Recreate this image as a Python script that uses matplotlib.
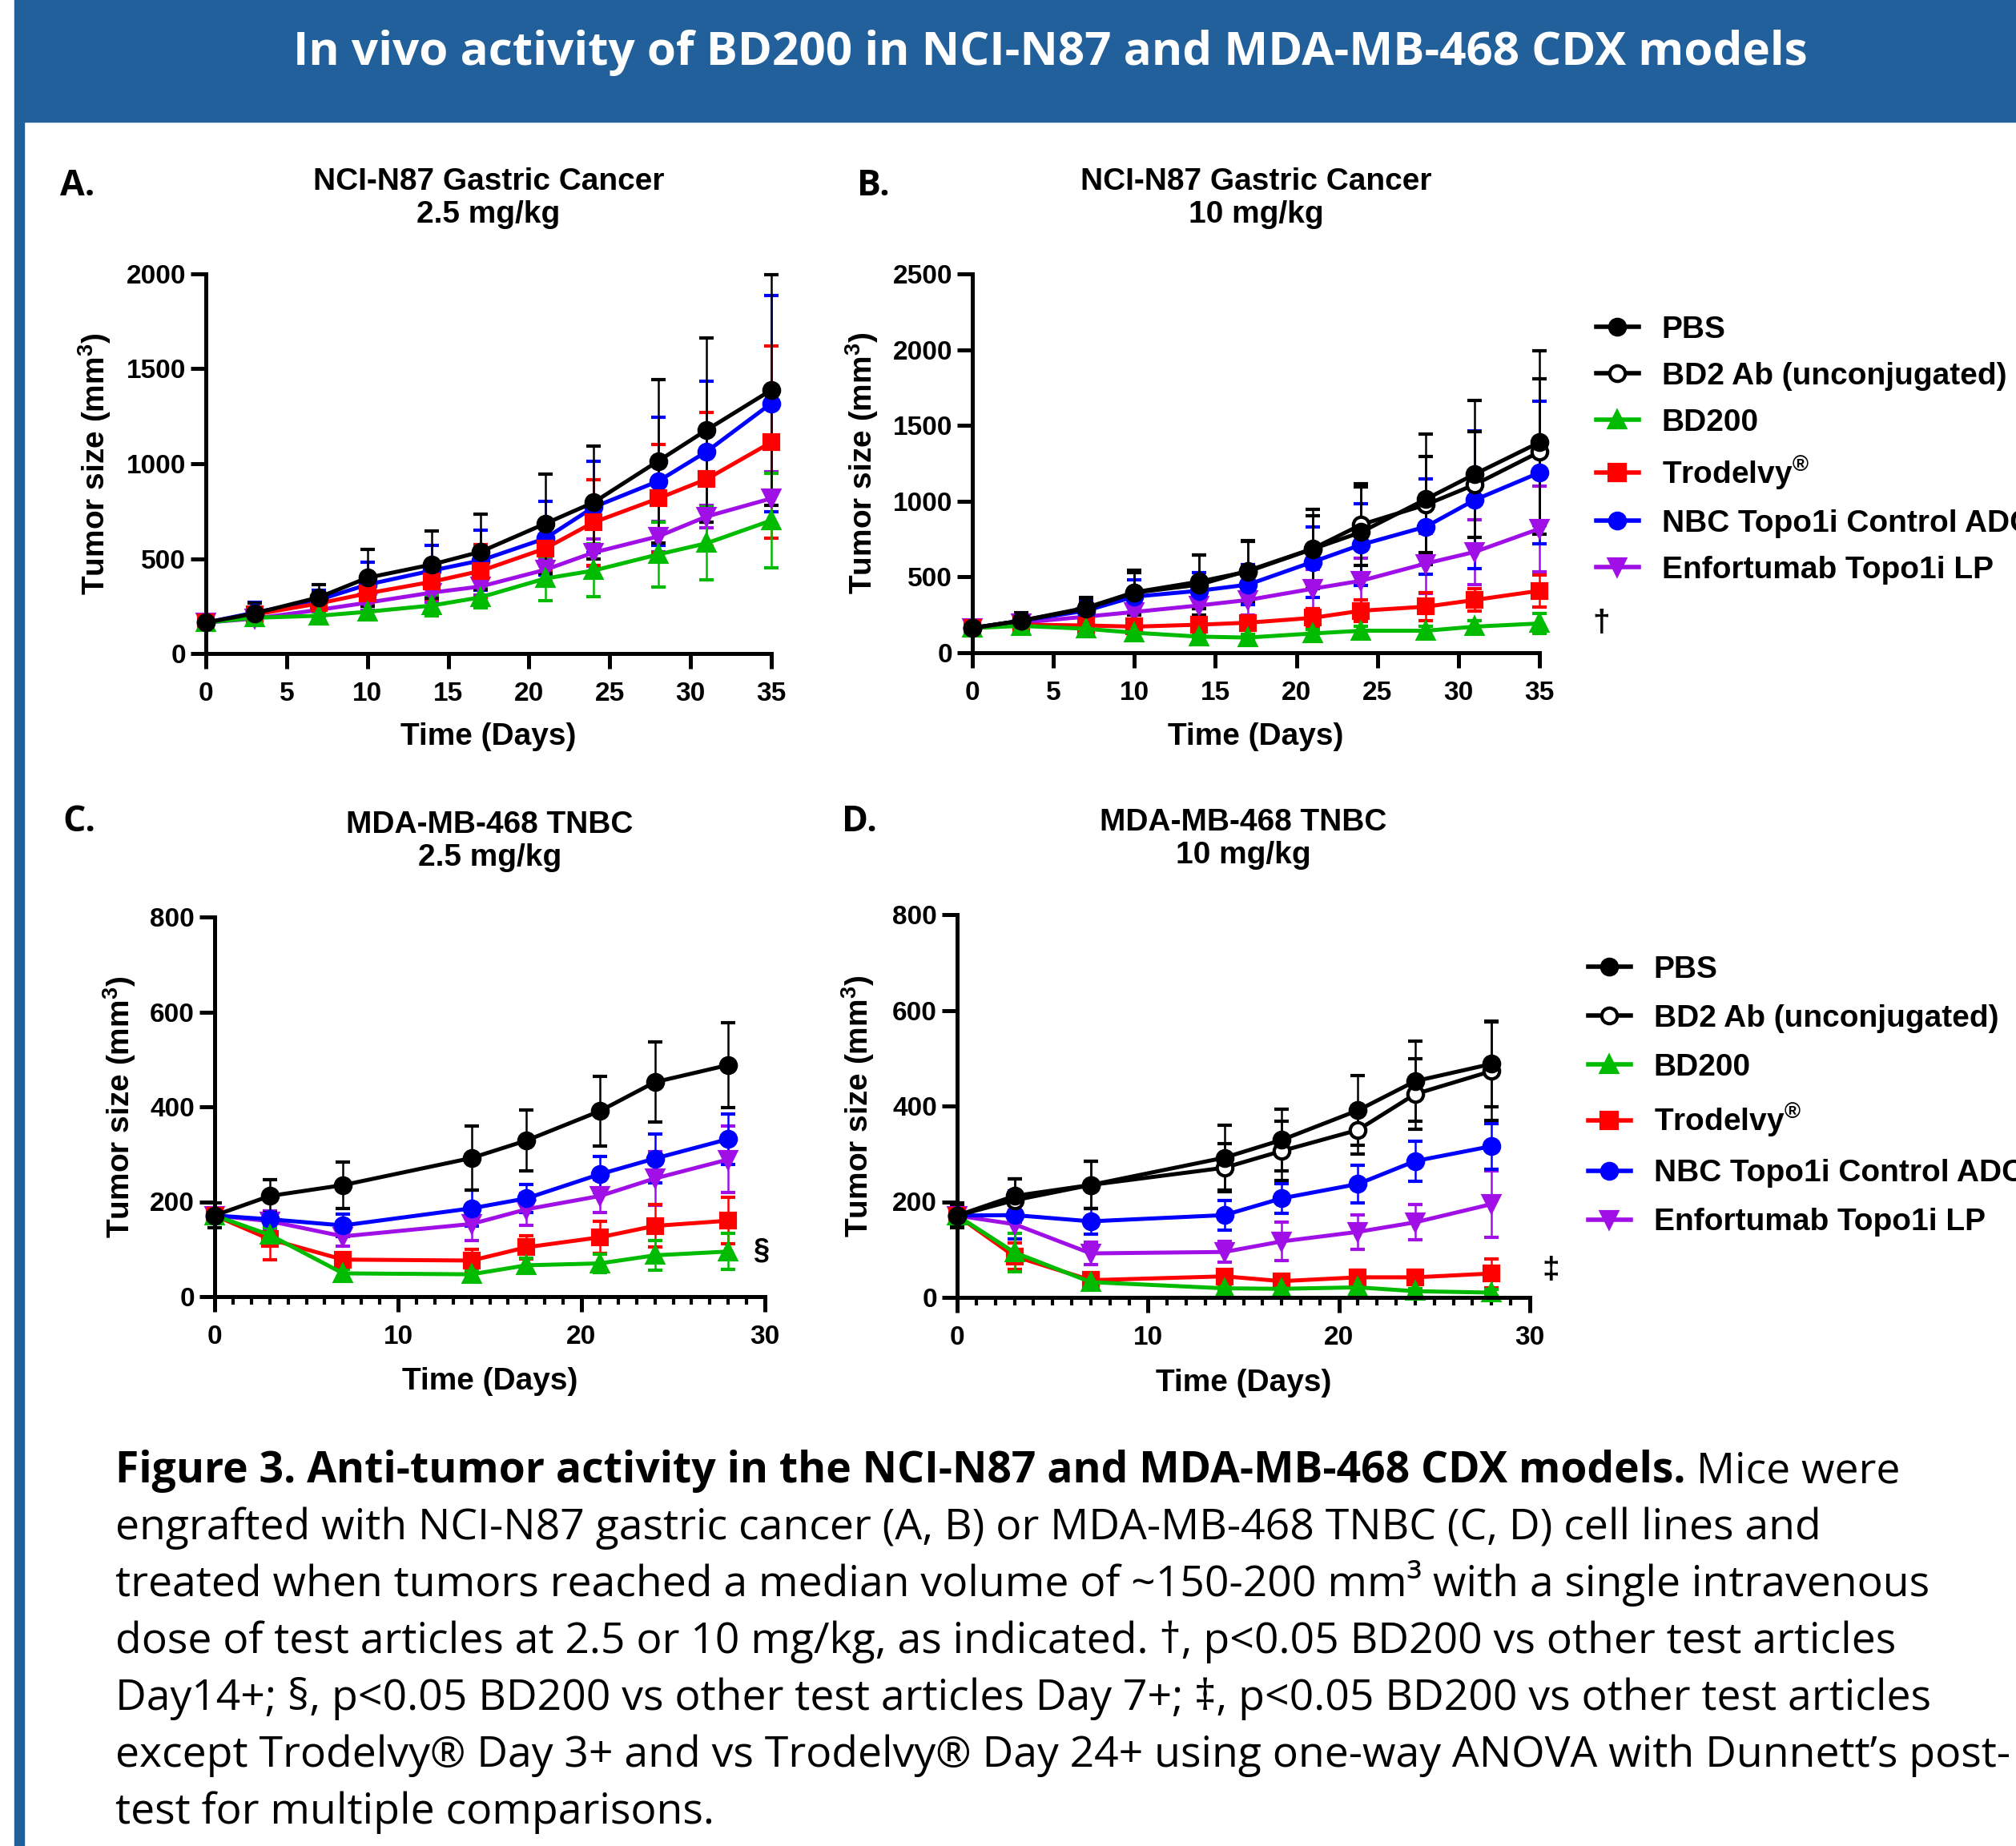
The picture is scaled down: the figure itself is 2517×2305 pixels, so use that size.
import matplotlib
matplotlib.use('Agg')
import matplotlib.pyplot as plt
from matplotlib.lines import Line2D
from matplotlib.patches import Rectangle

plt.rcParams['font.family'] = ['Liberation Sans', 'DejaVu Sans']
plt.rcParams['font.weight'] = 'bold'
plt.rcParams['mathtext.fontset'] = 'custom'
plt.rcParams['mathtext.rm'] = 'Liberation Sans:bold'
plt.rcParams['mathtext.bf'] = 'Liberation Sans:bold'
plt.rcParams['mathtext.it'] = 'Liberation Sans:bold'
plt.rcParams['mathtext.default'] = 'rm'

# ------------------------- data -------------------------
days_n87 = [0, 3, 7, 10, 14, 17, 21, 24, 28, 31, 35]
days_mda = [0, 3, 7, 14, 17, 21, 24, 28]

# NCI-N87 (shared PBS / BD2 Ab groups)
pbs_n87 = [163, 211, 296, 399, 469, 536, 684, 796, 1014, 1178, 1388]
pbs_n87_sd = [20, 55, 67, 148, 177, 197, 260, 296, 431, 486, 606]
bd2_n87 = [163, 211, 290, 396, 449, 541, 686, 845, 977, 1109, 1325]
bd2_n87_sd = [20, 50, 70, 130, 198, 198, 220, 269, 317, 348, 483]

# A: 2.5 mg/kg
bd200_a = [163, 188, 199, 220, 253, 296, 395, 437, 522, 581, 701]
bd200_a_sd = [15, 20, 20, 30, 54, 55, 116, 139, 171, 192, 249]
trod_a = [163, 205, 264, 317, 378, 435, 553, 691, 817, 919, 1113]
trod_a_sd = [15, 30, 40, 60, 90, 140, 120, 226, 285, 352, 507]
nbc_a = [163, 215, 283, 363, 437, 490, 606, 771, 908, 1064, 1318]
nbc_a_sd = [15, 53, 49, 116, 133, 158, 194, 241, 338, 372, 570]
enf_a = [163, 184, 230, 268, 321, 353, 441, 532, 617, 722, 817]
enf_a_sd = [15, 20, 30, 40, 50, 45, 60, 70, 80, 60, 142]

# B: 10 mg/kg
bd200_b = [163, 177, 158, 132, 106, 100, 127, 145, 145, 172, 193]
bd200_b_sd = [15, 20, 25, 25, 20, 20, 25, 30, 30, 40, 66]
trod_b = [163, 185, 180, 172, 185, 198, 230, 277, 304, 348, 409]
trod_b_sd = [15, 20, 25, 30, 40, 45, 60, 70, 92, 74, 106]
nbc_b = [163, 211, 277, 370, 409, 449, 599, 713, 832, 1008, 1188]
nbc_b_sd = [15, 45, 60, 113, 119, 132, 233, 269, 316, 454, 470]
enf_b = [163, 198, 238, 269, 312, 348, 422, 475, 589, 665, 818]
enf_b_sd = [15, 25, 40, 50, 80, 100, 130, 150, 200, 214, 283]

# MDA-MB-468 (shared PBS / BD2 Ab groups)
pbs_mda = [171, 212, 235, 292, 329, 391, 452, 488]
pbs_mda_sd = [26, 35, 49, 67, 64, 73, 84, 90]
bd2_mda = [171, 203, 235, 271, 306, 350, 425, 473]
bd2_mda_sd = [20, 45, 50, 50, 62, 50, 73, 103]

# C: 2.5 mg/kg
bd200_c = [171, 130, 49, 47, 66, 70, 87, 95]
bd200_c_sd = [15, 15, 8, 8, 15, 20, 31, 38]
trod_c = [171, 121, 78, 76, 104, 125, 149, 160]
trod_c_sd = [15, 43, 12, 24, 25, 34, 45, 49]
nbc_c = [171, 163, 150, 186, 207, 258, 291, 332]
nbc_c_sd = [15, 15, 23, 38, 29, 38, 51, 53]
enf_c = [171, 159, 127, 153, 184, 212, 249, 289]
enf_c_sd = [15, 21, 20, 35, 34, 34, 56, 70]

# D: 10 mg/kg
bd200_d = [171, 94, 32, 19, 18, 21, 13, 10]
bd200_d_sd = [15, 40, 8, 6, 6, 6, 6, 6]
trod_d = [171, 86, 36, 44, 34, 42, 42, 50]
trod_d_sd = [15, 27, 10, 12, 10, 15, 15, 30]
nbc_d = [171, 172, 159, 172, 207, 237, 285, 316]
nbc_d_sd = [15, 50, 27, 31, 31, 39, 42, 48]
enf_d = [171, 153, 92, 95, 117, 137, 157, 195]
enf_d_sd = [15, 30, 23, 22, 40, 36, 37, 69]

group_labels = ['PBS', 'BD2 Ab (unconjugated)', 'BD200', 'Trodelvy$^{\u00ae}$',
                'NBC Topo1i Control ADC', 'Enfortumab Topo1i LP']

# colour, marker, face colour for each group
styles = {
    'PBS': ('black', 'o', 'black'),
    'BD2 Ab (unconjugated)': ('black', 'o', 'white'),
    'BD200': ('#00BB00', '^', '#00BB00'),
    'Trodelvy$^{\u00ae}$': ('#FF0000', 's', '#FF0000'),
    'NBC Topo1i Control ADC': ('#0000FF', 'o', '#0000FF'),
    'Enfortumab Topo1i LP': ('#A010E6', 'v', '#A010E6'),
}

W, H = 2517, 2305


def fx(px):
    return px / W


def fy(py):
    return 1 - py / H


fig = plt.figure(figsize=(W / 100, H / 100), dpi=100)

# ------------------------- banner -------------------------
blue = '#22609B'
fig.patches.append(Rectangle((fx(18), fy(152)), 1, 152 / H, transform=fig.transFigure,
                             color=blue, zorder=0))
fig.patches.append(Rectangle((fx(18), 0), 12 / W, fy(152), transform=fig.transFigure,
                             color=blue, zorder=0))
fig.text(fx(1311), fy(66), 'In vivo activity of BD200 in NCI-N87 and MDA-MB-468 CDX models',
         color='white', fontsize=42, fontweight='bold', family=['Open Sans', 'DejaVu Sans'],
         ha='center', va='center')


def make_panel(box, days, series, ymax, ystep, xmax, xstep, minor, title, letter, letter_pos,
               ylab_x, xlab_y):
    l, t, r, b = box
    ax = fig.add_axes([fx(l), fy(b), (r - l) / W, (b - t) / H])
    for lab, y, sd in series[::-1]:
        c, m, mfc = styles[lab]
        ms = 13 if m == 's' else 14
        cont = ax.errorbar(days, y, yerr=sd, color=c, marker=m, ms=ms, mfc=mfc, mec=c, mew=3,
                           lw=3.6, elinewidth=1.8, capsize=6.5, capthick=1.8)
        for art in cont.get_children():
            art.set_clip_on(False)
    ax.set_xlim(0, xmax)
    ax.set_ylim(0, ymax)
    ax.set_xticks(range(0, xmax + 1, xstep))
    ax.set_yticks(range(0, ymax + 1, ystep))
    if minor:
        ax.set_xticks(range(0, xmax + 1), minor=True)
    for s in ['top', 'right']:
        ax.spines[s].set_visible(False)
    for s in ['left', 'bottom']:
        ax.spines[s].set_linewidth(3.6)
    ax.tick_params(axis='both', which='major', length=14, width=3.6, labelsize=24)
    ax.tick_params(axis='x', which='major', pad=11)
    ax.tick_params(axis='y', which='major', pad=4)
    ax.tick_params(axis='x', which='minor', length=7, width=3)
    for lbl in ax.get_xticklabels() + ax.get_yticklabels():
        lbl.set_fontweight('bold')
    ax.set_xlabel('Time (Days)', fontsize=28, fontweight='bold', va='center')
    ax.xaxis.set_label_coords(0.5, -(xlab_y - b) / (b - t))
    ax.set_ylabel('Tumor size (mm$^{3}$)', fontsize=28, fontweight='bold', va='center', ha='center')
    ax.yaxis.set_label_coords(-(l - ylab_x) / (r - l), 0.5)
    ax.annotate(title, xy=(0.5, 1), xycoords='axes fraction', xytext=(0, 68),
                textcoords='offset points', ha='center', va='center', fontsize=28,
                fontweight='bold', linespacing=1.15)
    fig.text(fx(letter_pos[0]), fy(letter_pos[1]), letter, fontsize=32, fontweight='bold',
             family=['Open Sans', 'DejaVu Sans'], ha='left', va='center')
    return ax


series_a = [('PBS', pbs_n87, pbs_n87_sd), ('BD200', bd200_a, bd200_a_sd),
            ('Trodelvy$^{\u00ae}$', trod_a, trod_a_sd),
            ('NBC Topo1i Control ADC', nbc_a, nbc_a_sd),
            ('Enfortumab Topo1i LP', enf_a, enf_a_sd)]
series_b = [('PBS', pbs_n87, pbs_n87_sd), ('BD2 Ab (unconjugated)', bd2_n87, bd2_n87_sd),
            ('BD200', bd200_b, bd200_b_sd), ('Trodelvy$^{\u00ae}$', trod_b, trod_b_sd),
            ('NBC Topo1i Control ADC', nbc_b, nbc_b_sd),
            ('Enfortumab Topo1i LP', enf_b, enf_b_sd)]
series_c = [('PBS', pbs_mda, pbs_mda_sd), ('BD200', bd200_c, bd200_c_sd),
            ('Trodelvy$^{\u00ae}$', trod_c, trod_c_sd),
            ('NBC Topo1i Control ADC', nbc_c, nbc_c_sd),
            ('Enfortumab Topo1i LP', enf_c, enf_c_sd)]
series_d = [('PBS', pbs_mda, pbs_mda_sd), ('BD2 Ab (unconjugated)', bd2_mda, bd2_mda_sd),
            ('BD200', bd200_d, bd200_d_sd), ('Trodelvy$^{\u00ae}$', trod_d, trod_d_sd),
            ('NBC Topo1i Control ADC', nbc_d, nbc_d_sd),
            ('Enfortumab Topo1i LP', enf_d, enf_d_sd)]

make_panel((257, 342, 963, 816), days_n87, series_a, 2000, 500, 35, 5, False,
           'NCI-N87 Gastric Cancer\n2.5 mg/kg', 'A.', (75, 232), 118, 920)
make_panel((1214, 342, 1922, 815), days_n87, series_b, 2500, 500, 35, 5, False,
           'NCI-N87 Gastric Cancer\n10 mg/kg', 'B.', (1070, 232), 1076, 920)
make_panel((268, 1145, 955, 1619), days_mda, series_c, 800, 200, 30, 10, True,
           'MDA-MB-468 TNBC\n2.5 mg/kg', 'C.', (78, 1027), 149, 1725)
make_panel((1195, 1142, 1910, 1620), days_mda, series_d, 800, 200, 30, 10, True,
           'MDA-MB-468 TNBC\n10 mg/kg', 'D.', (1051, 1027), 1071, 1727)

# significance marks
fig.text(fx(1988), fy(778), '\u2020', fontsize=28, fontweight='bold', ha='left', va='center')
fig.text(fx(940), fy(1562), '\u00a7', fontsize=26, fontweight='bold', ha='left', va='center')
fig.text(fx(1925), fy(1586), '\u2021', fontsize=28, fontweight='bold', ha='left', va='center')

# legends
handles = []
for lab in group_labels:
    c, m, mfc = styles[lab]
    handles.append(Line2D([], [], color=c, marker=m, ms=14, mfc=mfc, mec=c, mew=3, lw=4))
for anchor, spacing in [((1993, 394), 0.56), ((1983, 1193), 0.64)]:
    fig.legend(handles, group_labels, loc='upper left', bbox_to_anchor=(fx(anchor[0]), fy(anchor[1])),
               frameon=False, borderpad=0, borderaxespad=0, handlelength=1.35,
               handletextpad=0.75, labelspacing=spacing, prop={'weight': 'bold', 'size': 28})

# caption
cap_font = ['Open Sans', 'DejaVu Sans']
cap_size = 38.5
cap_lines = [
    'engrafted with NCI-N87 gastric cancer (A, B) or MDA-MB-468 TNBC (C, D) cell lines and',
    'treated when tumors reached a median volume of ~150-200 mm\u00b3 with a single intravenous',
    'dose of test articles at 2.5 or 10 mg/kg, as indicated. \u2020, p<0.05 BD200 vs other test articles',
    'Day14+; \u00a7, p<0.05 BD200 vs other test articles Day 7+; \u2021, p<0.05 BD200 vs other test articles',
    'except Trodelvy\u00ae Day 3+ and vs Trodelvy\u00ae Day 24+ using one-way ANOVA with Dunnett\u2019s post-',
    'test for multiple comparisons.',
]
base0 = 1851
pitch = 71
bold_part = fig.text(fx(144), fy(base0), 'Figure 3. Anti-tumor activity in the NCI-N87 and MDA-MB-468 CDX models.',
                     fontsize=cap_size, fontweight='bold', family=cap_font, ha='left', va='baseline')
fig.canvas.draw()
ext = bold_part.get_window_extent()
fig.text(ext.x1 / W, fy(base0), ' Mice were', fontsize=cap_size, fontweight='normal',
         family=cap_font, ha='left', va='baseline')
for i, line in enumerate(cap_lines):
    fig.text(fx(144), fy(base0 + pitch * (i + 1)), line, fontsize=cap_size, fontweight='normal',
             family=cap_font, ha='left', va='baseline')

fig.savefig('out.png', dpi=100)
